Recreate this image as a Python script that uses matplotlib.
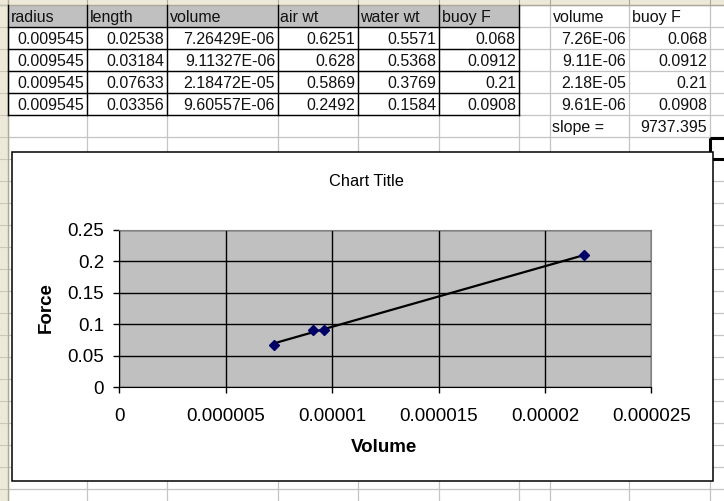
import numpy as np
import matplotlib
matplotlib.use("Agg")
import matplotlib.pyplot as plt
from matplotlib.patches import Rectangle
from matplotlib.ticker import FixedLocator, FixedFormatter

plt.rcParams['font.family'] = ['Liberation Sans', 'DejaVu Sans']

# sheet data
headers = ["radius", "length", "volume", "air wt", "water wt", "buoy F"]
radius = [0.009545, 0.009545, 0.009545, 0.009545]
length = [0.02538, 0.03184, 0.07633, 0.03356]
volume = [7.26429e-06, 9.11327e-06, 2.18472e-05, 9.60557e-06]
air_wt = [0.6251, 0.628, 0.5869, 0.2492]
water_wt = [0.5571, 0.5368, 0.3769, 0.1584]
buoy_f = [0.068, 0.0912, 0.21, 0.0908]
slope = 9737.395

# chart axes
x_ticks = [0, 0.000005, 0.00001, 0.000015, 0.00002, 0.000025]
x_labels = ["0", "0.000005", "0.00001", "0.000015", "0.00002", "0.000025"]
y_ticks = [0, 0.05, 0.1, 0.15, 0.2, 0.25]
y_labels = ["0", "0.05", "0.1", "0.15", "0.2", "0.25"]

W, H = 724, 501
col_x = [8, 87, 167, 278, 358, 439, 519, 550, 629, 710, 790]
row_y = [5 + 22 * i for i in range(24)]

fig = plt.figure(figsize=(W / 100, H / 100), dpi=100)
bg = fig.add_axes([0, 0, 1, 1])
bg.set_xlim(0, W)
bg.set_ylim(H, 0)
bg.axis("off")

grid_c = "#c4c4c4"
beige = "#ece9d8"
# sheet grid
for x in col_x:
    bg.plot([x, x], [5, H], color=grid_c, lw=0.9, zorder=1)
for y in row_y:
    bg.plot([8, W], [y, y], color=grid_c, lw=0.9, zorder=1)
# row / column header strips
bg.add_patch(Rectangle((0, 0), 8, H, facecolor=beige, edgecolor="none", zorder=2))
bg.add_patch(Rectangle((0, 0), W, 5, facecolor=beige, edgecolor="none", zorder=2))
bg.plot([7.5, 7.5], [0, H], color="#aca899", lw=1, zorder=3)
bg.plot([0, W], [4.5, 4.5], color="#aca899", lw=1, zorder=3)
for y in row_y:
    bg.plot([0, 7], [y, y], color="#cbc7b8", lw=0.8, zorder=3)
for x in col_x:
    bg.plot([x, x], [0, 4], color="#aca899", lw=0.8, zorder=3)

# main table
bg.add_patch(Rectangle((8, 5), 519 - 8, 22, facecolor="#c0c0c0", edgecolor="none", zorder=2))
for x in col_x[:7]:
    bg.plot([x, x], [5, 115], color="black", lw=1, zorder=3)
for y in [27, 49, 71, 93, 115]:
    bg.plot([8, 519], [y, y], color="black", lw=1, zorder=3)

tcolor = "#111111"
fs = 11.5
for j, h in enumerate(headers):
    bg.text(col_x[j] + 2.5, 17, h, ha="left", va="center", fontsize=fs, color=tcolor, zorder=4)
cols = [
    [f"{v:g}" for v in radius],
    [f"{v:g}" for v in length],
    [f"{v:.5E}" for v in volume],
    [f"{v:g}" for v in air_wt],
    [f"{v:g}" for v in water_wt],
    [f"{v:g}" for v in buoy_f],
]
for j, col in enumerate(cols):
    for i, s in enumerate(col):
        bg.text(col_x[j + 1] - 3, 39 + 22 * i, s, ha="right", va="center",
                fontsize=fs, color=tcolor, zorder=4)

# side table
bg.text(col_x[7] + 2.5, 17, "volume", ha="left", va="center", fontsize=fs, color=tcolor, zorder=4)
bg.text(col_x[8] + 2.5, 17, "buoy F", ha="left", va="center", fontsize=fs, color=tcolor, zorder=4)
for i in range(4):
    bg.text(col_x[8] - 3, 39 + 22 * i, f"{volume[i]:.2E}", ha="right", va="center",
            fontsize=fs, color=tcolor, zorder=4)
    bg.text(col_x[9] - 3, 39 + 22 * i, f"{buoy_f[i]:g}", ha="right", va="center",
            fontsize=fs, color=tcolor, zorder=4)
bg.text(col_x[7] + 2.5, 127, "slope =", ha="left", va="center", fontsize=fs, color=tcolor, zorder=4)
bg.text(col_x[9] - 3, 127, f"{slope:.3f}", ha="right", va="center", fontsize=fs, color=tcolor, zorder=4)

# selected cell
bg.add_patch(Rectangle((710, 137.5), 60, 21, facecolor="none", edgecolor="black", lw=2.2, zorder=4))

# chart area
bg.add_patch(Rectangle((12, 151.5), 700.5, 329.5, facecolor="white", edgecolor="black", lw=1.1, zorder=5))
bg.text(366, 181, "Chart Title", ha="center", va="center", fontsize=11.8, zorder=6)
bg.text(46.5, 308, "Force", ha="center", va="center", rotation=90, fontsize=13.5,
        fontweight="bold", zorder=6)
bg.text(384, 448, "Volume", ha="center", va="center", fontsize=13.5, fontweight="bold", zorder=6)

# plot area
x0, y0, x1, y1 = 119.3, 230.0, 651.3, 387.3
ax = fig.add_axes([x0 / W, 1 - y1 / H, (x1 - x0) / W, (y1 - y0) / H])
ax.set_facecolor("#c0c0c0")
ax.set_xlim(0, 0.000025)
ax.set_ylim(0, 0.25)
ax.xaxis.set_major_locator(FixedLocator(x_ticks))
ax.xaxis.set_major_formatter(FixedFormatter(x_labels))
ax.yaxis.set_major_locator(FixedLocator(y_ticks))
ax.yaxis.set_major_formatter(FixedFormatter(y_labels))
ax.grid(True, color="black", lw=1)
ax.set_axisbelow(True)
for s in ["top", "right"]:
    ax.spines[s].set_color("#808080")
for s in ["left", "bottom"]:
    ax.spines[s].set_color("black")
ax.tick_params(axis="both", direction="out", length=4, width=1, labelsize=13.5, color="black")
ax.tick_params(axis="y", pad=7)
ax.tick_params(axis="x", pad=11)

# trendline
k, b = np.polyfit(volume, buoy_f, 1)
xs = np.array([min(volume), max(volume)])
ax.plot(xs, k * xs + b, color="black", lw=1.6, zorder=3)
ax.plot(volume, buoy_f, linestyle="none", marker="D", markersize=4.6,
        color="#000066", markeredgecolor="#000066", zorder=4)

fig.savefig("out.png", dpi=100)
